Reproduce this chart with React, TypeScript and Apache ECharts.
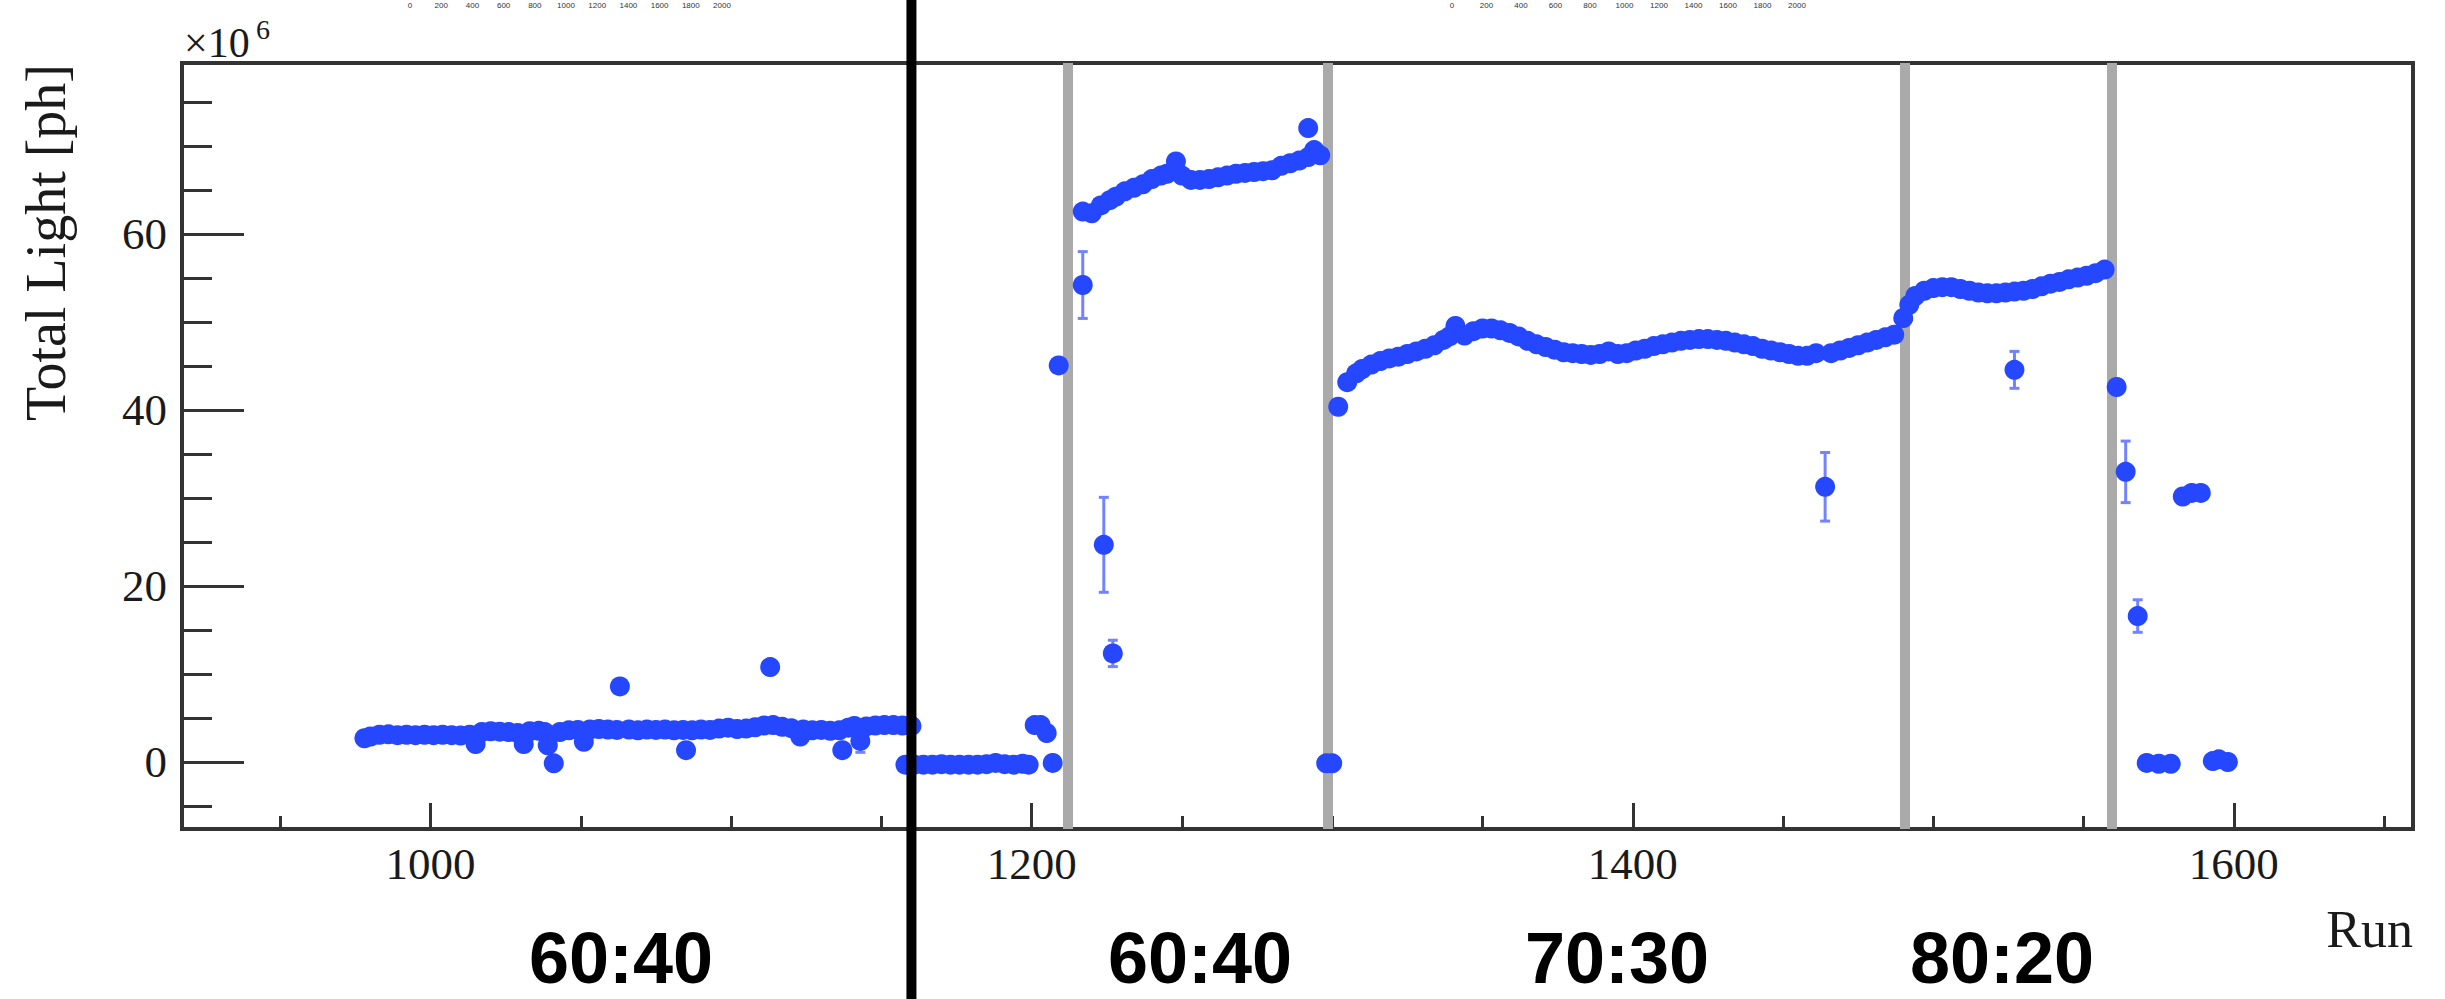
import React, { useEffect, useRef } from "react";
import * as echarts from "echarts";

// ---------------- data ----------------
// first 60:40 period
const runsA = [978, 980, 983, 986, 989, 992, 995, 998, 1001, 1004, 1007, 1010, 1013, 1015, 1017, 1020, 1023, 1026, 1029, 1031, 1033, 1036, 1038, 1039, 1041, 1043, 1046, 1049, 1051, 1053, 1056, 1059, 1062, 1063, 1066, 1069, 1072, 1075, 1078, 1081, 1084, 1085, 1087, 1090, 1093, 1096, 1099, 1102, 1105, 1108, 1111, 1113, 1114, 1117, 1120, 1123, 1124, 1127, 1130, 1133, 1136, 1137, 1139, 1141, 1145, 1148, 1151, 1154, 1157, 1160];
const lightA = [2.7, 2.9, 3.1, 3.15, 3.05, 3.1, 3.05, 3.1, 3.05, 3.1, 3.05, 3.0, 3.1, 2.05, 3.4, 3.5, 3.45, 3.4, 3.3, 2.05, 3.5, 3.55, 3.4, 1.9, -0.15, 3.4, 3.6, 3.65, 2.3, 3.7, 3.75, 3.7, 3.65, 8.6, 3.7, 3.6, 3.7, 3.65, 3.7, 3.6, 3.65, 1.35, 3.6, 3.7, 3.65, 3.8, 3.9, 3.75, 3.8, 3.95, 4.15, 10.8, 4.2, 4.0, 3.85, 2.9, 3.7, 3.6, 3.65, 3.55, 3.6, 1.35, 3.9, 4.1, 4.05, 4.15, 4.2, 4.2, 4.15, 4.1];
// off period and the switch to the second 60:40 fill
const runsB = [1158, 1161, 1164, 1167, 1170, 1173, 1176, 1179, 1182, 1185, 1188, 1191, 1194, 1197, 1199, 1201, 1203, 1205, 1207, 1209];
const lightB = [-0.3, -0.3, -0.3, -0.3, -0.25, -0.3, -0.3, -0.3, -0.3, -0.25, -0.1, -0.25, -0.3, -0.2, -0.3, 4.2, 4.2, 3.3, -0.1, 45.1];
// second 60:40 period
const runsC = [1217, 1220, 1223, 1226, 1228, 1231, 1234, 1237, 1240, 1243, 1245, 1248, 1250, 1253, 1256, 1259, 1262, 1265, 1268, 1271, 1274, 1277, 1280, 1283, 1286, 1289, 1292, 1292, 1294, 1296, 1298, 1300];
const lightC = [62.6, 62.4, 63.3, 63.9, 64.3, 64.9, 65.3, 65.7, 66.3, 66.7, 66.9, 68.3, 66.7, 66.2, 66.2, 66.3, 66.5, 66.7, 66.9, 67.0, 67.1, 67.2, 67.3, 67.8, 68.1, 68.4, 68.8, 72.1, 69.6, 69.0, -0.15, -0.15];
// 70:30 period
const runsD = [1302, 1305, 1308, 1310, 1313, 1316, 1319, 1322, 1325, 1328, 1331, 1334, 1337, 1339, 1341, 1344, 1347, 1350, 1353, 1356, 1359, 1362, 1365, 1368, 1371, 1374, 1377, 1380, 1383, 1386, 1389, 1392, 1395, 1398, 1401, 1404, 1407, 1410, 1413, 1416, 1419, 1422, 1425, 1428, 1431, 1434, 1437, 1440, 1443, 1446, 1449, 1452, 1455, 1458, 1461, 1466, 1469, 1472, 1475, 1478, 1481, 1484, 1487, 1490];
const lightD = [40.4, 43.2, 44.2, 44.7, 45.2, 45.6, 45.9, 46.1, 46.4, 46.7, 47.0, 47.4, 48.0, 48.4, 49.6, 48.5, 49.0, 49.3, 49.3, 49.1, 48.8, 48.4, 47.9, 47.5, 47.2, 46.9, 46.6, 46.5, 46.4, 46.3, 46.4, 46.7, 46.4, 46.5, 46.8, 47.0, 47.3, 47.5, 47.7, 47.9, 48.0, 48.1, 48.1, 48.0, 47.9, 47.7, 47.5, 47.3, 47.0, 46.8, 46.6, 46.4, 46.2, 46.2, 46.5, 46.5, 46.8, 47.1, 47.4, 47.7, 48.0, 48.3, 48.6, 50.5];
// 80:20 period
const runsE = [1492, 1494, 1497, 1500, 1503, 1506, 1509, 1512, 1515, 1518, 1521, 1524, 1527, 1530, 1533, 1536, 1539, 1542, 1545, 1548, 1551, 1554, 1557];
const lightE = [52.0, 53.0, 53.6, 53.9, 54.0, 54.0, 53.8, 53.6, 53.4, 53.3, 53.3, 53.4, 53.5, 53.6, 53.8, 54.1, 54.4, 54.6, 54.9, 55.1, 55.3, 55.6, 56.0];
// after the 80:20 period
const runsF = [1561, 1571, 1575, 1579, 1583, 1586, 1589, 1593, 1595, 1598];
const lightF = [42.65, -0.1, -0.2, -0.2, 30.2, 30.6, 30.6, 0.1, 0.3, 0.0];
// points drawn with error bars
const errRuns = [1143, 1217, 1224, 1227, 1464, 1527, 1564, 1568];
const errLight = [2.4, 54.25, 24.7, 12.35, 31.3, 44.6, 33.0, 16.6];
const errSigma = [1.3, 3.8, 5.4, 1.5, 3.9, 2.1, 3.5, 1.85];

// gas-fill boundaries and the separator
const boundaryRuns = [1212, 1298.5, 1490.5, 1559.5];
const separatorRun = 1160;
const mixLabels = ["60:40", "60:40", "70:30", "80:20"];

// axis ticks
const xMin = 917.3;
const xMax = 1659.6;
const yMin = -7.62;
const yMax = 79.5;
const xMajor = [1000, 1200, 1400, 1600];
const xMinor = [950, 1050, 1100, 1150, 1250, 1300, 1350, 1450, 1500, 1550, 1650];
const yMajor = [0, 20, 40, 60];
const yMinor = [-5, 5, 10, 15, 25, 30, 35, 45, 50, 55, 65, 70, 75];
const topStripTicks = ["0", "200", "400", "600", "800", "1000", "1200", "1400", "1600", "1800", "2000"];

// ---------------- layout / style ----------------
const BLUE = "#2447ff";
const ERR = "#7383ff";
const AXIS = "#333333";
const TEXT = "#1a1a1a";
const SERIF = "'Liberation Serif', 'Times New Roman', serif";
const SANS = "'Liberation Sans', Arial, sans-serif";

function pairs(r: number[], v: number[]) {
  return r.map((x, i) => [x, v[i]]);
}

export default function App() {
  const ref = useRef<HTMLDivElement>(null);

  useEffect(() => {
    if (!ref.current) return;
    const chart = echarts.init(ref.current, undefined, { renderer: "svg" });

    const points = [
      ...pairs(runsA, lightA),
      ...pairs(runsB, lightB),
      ...pairs(runsC, lightC),
      ...pairs(runsD, lightD),
      ...pairs(runsE, lightE),
      ...pairs(runsF, lightF),
      ...pairs(errRuns, errLight),
    ];
    const errData = errRuns.map((r, i) => [r, errLight[i], errSigma[i]]);

    const fmt = (v: number) => String(v);
    const tickStyle = { color: AXIS, width: 3 };

    chart.setOption({
      animation: false,
      backgroundColor: "#ffffff",
      grid: {
        left: 182,
        top: 63,
        width: 2231,
        height: 766,
        show: true,
        borderColor: AXIS,
        borderWidth: 4,
        backgroundColor: "transparent",
      },
      xAxis: [
        {
          type: "value",
          min: xMin,
          max: xMax,
          position: "bottom",
          axisLine: { show: false, onZero: false },
          splitLine: { show: false },
          axisTick: { show: true, inside: true, length: 26, customValues: xMajor, lineStyle: tickStyle },
          axisLabel: {
            show: true,
            customValues: xMajor,
            formatter: fmt,
            margin: 12,
            fontFamily: SERIF,
            fontSize: 45,
            color: TEXT,
          },
        },
        {
          type: "value",
          min: xMin,
          max: xMax,
          position: "bottom",
          axisLine: { show: false, onZero: false },
          splitLine: { show: false },
          axisLabel: { show: false },
          axisTick: { show: true, inside: true, length: 13, customValues: xMinor, lineStyle: tickStyle },
        },
      ],
      yAxis: [
        {
          type: "value",
          min: yMin,
          max: yMax,
          position: "left",
          axisLine: { show: false, onZero: false },
          splitLine: { show: false },
          axisTick: { show: true, inside: true, length: 62, customValues: yMajor, lineStyle: tickStyle },
          axisLabel: {
            show: true,
            customValues: yMajor,
            formatter: fmt,
            margin: 15,
            fontFamily: SERIF,
            fontSize: 45,
            color: TEXT,
          },
        },
        {
          type: "value",
          min: yMin,
          max: yMax,
          position: "left",
          axisLine: { show: false, onZero: false },
          splitLine: { show: false },
          axisLabel: { show: false },
          axisTick: { show: true, inside: true, length: 30, customValues: yMinor, lineStyle: tickStyle },
        },
      ],
      series: [
        {
          type: "custom",
          name: "errors",
          xAxisIndex: 0,
          yAxisIndex: 0,
          z: 2,
          data: errData,
          encode: { x: 0, y: 1 },
          renderItem: (params: any, api: any) => {
            const x = api.value(0);
            const y = api.value(1);
            const e = api.value(2);
            const p1 = api.coord([x, y + e]);
            const p2 = api.coord([x, y - e]);
            const cap = 5;
            const style = { stroke: ERR, lineWidth: 3 };
            return {
              type: "group",
              children: [
                { type: "line", shape: { x1: p1[0], y1: p1[1], x2: p2[0], y2: p2[1] }, style },
                { type: "line", shape: { x1: p1[0] - cap, y1: p1[1], x2: p1[0] + cap, y2: p1[1] }, style },
                { type: "line", shape: { x1: p2[0] - cap, y1: p2[1], x2: p2[0] + cap, y2: p2[1] }, style },
              ],
            };
          },
        },
        {
          type: "scatter",
          name: "Total Light",
          xAxisIndex: 0,
          yAxisIndex: 0,
          z: 3,
          symbol: "circle",
          symbolSize: 20,
          itemStyle: { color: BLUE, opacity: 1 },
          data: points,
          markLine: {
            silent: true,
            z: 1,
            symbol: ["none", "none"],
            label: { show: false },
            lineStyle: { color: "#aaaaaa", width: 10, type: "solid", opacity: 1 },
            emphasis: { disabled: true },
            data: boundaryRuns.map((r) => ({ xAxis: r })),
          },
        },
      ],
    });

    const sepX = chart.convertToPixel({ xAxisIndex: 0 }, separatorRun) as number;
    const labelCenters = [621, 1200, 1617, 2002];

    const graphics: any[] = [
      {
        type: "text",
        x: 46,
        y: 64,
        rotation: Math.PI / 2,
        style: {
          text: "Total Light [ph]",
          fontFamily: SERIF,
          fontSize: 56,
          fill: TEXT,
          align: "right",
          verticalAlign: "middle",
        },
      },
      {
        type: "text",
        x: 184,
        y: 43,
        style: { text: "×10", fontFamily: SERIF, fontSize: 42, fill: TEXT, align: "left", verticalAlign: "middle" },
      },
      {
        type: "text",
        x: 256,
        y: 29,
        style: { text: "6", fontFamily: SERIF, fontSize: 28, fill: TEXT, align: "left", verticalAlign: "middle" },
      },
      {
        type: "text",
        x: 2413,
        y: 929,
        style: { text: "Run", fontFamily: SERIF, fontSize: 52, fill: TEXT, align: "right", verticalAlign: "middle" },
      },
      ...mixLabels.map((t, i) => ({
        type: "text",
        x: labelCenters[i],
        y: 958,
        style: {
          text: t,
          fontFamily: SANS,
          fontWeight: "bold",
          fontSize: 72,
          lineHeight: 60,
          fill: "#000000",
          align: "center",
          verticalAlign: "middle",
        },
      })),
      ...topStripTicks.map((t, i) => ({
        type: "text",
        x: 410 + i * 31.2,
        y: 1,
        style: { text: t, fontFamily: SANS, fontSize: 8, lineHeight: 9, fill: "#333", align: "center", verticalAlign: "top" },
      })),
      ...topStripTicks.map((t, i) => ({
        type: "text",
        x: 1452 + i * 34.5,
        y: 1,
        style: { text: t, fontFamily: SANS, fontSize: 8, lineHeight: 9, fill: "#333", align: "center", verticalAlign: "top" },
      })),
      {
        type: "line",
        z: 100,
        shape: { x1: sepX, y1: 0, x2: sepX, y2: 999 },
        style: { stroke: "#000000", lineWidth: 10 },
      },
    ];

    chart.setOption({ graphic: graphics });

    return () => {
      chart.dispose();
    };
  }, []);

  return (
    <div
      ref={ref}
      style={{ position: "absolute", left: 0, top: 0, width: 2445, height: 999, background: "#fff" }}
    />
  );
}
